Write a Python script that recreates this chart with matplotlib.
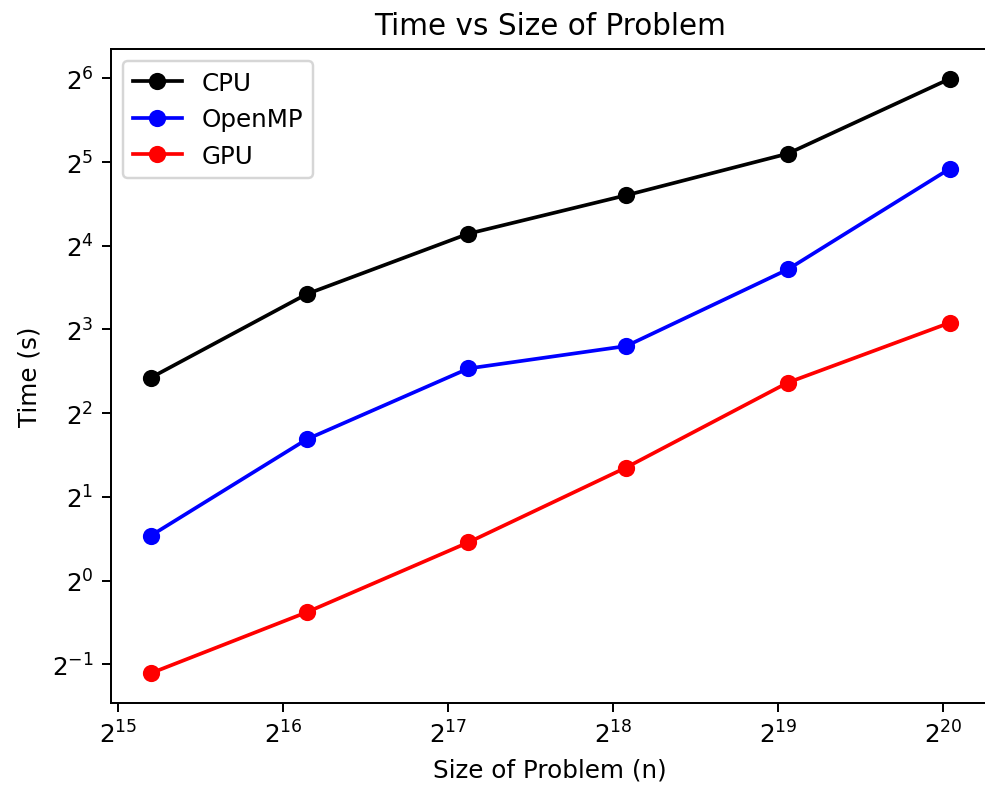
import matplotlib
matplotlib.use("Agg")
import matplotlib.pyplot as plt

# Problem sizes (n) and run times in seconds
sizes = [37600, 72400, 142800, 277000, 546000, 1079000]
cpu_time = [5.36, 10.72, 17.68, 24.3, 34.3, 63.8]
openmp_time = [1.449, 3.22, 5.79, 6.97, 13.15, 30.3]
gpu_time = [0.464, 0.769, 1.372, 2.55, 5.15, 8.46]

DPI = 177
fig = plt.figure(figsize=(985 / DPI, 792 / DPI), dpi=DPI)
ax = fig.add_axes([0.1124, 0.1111, 0.8926, 0.8258])

ax.plot(sizes, cpu_time, marker="o", color="black", label="CPU")
ax.plot(sizes, openmp_time, marker="o", color="blue", label="OpenMP")
ax.plot(sizes, gpu_time, marker="o", color="red", label="GPU")

ax.set_xscale("log", base=2)
ax.set_yscale("log", base=2)
ax.spines["right"].set_visible(False)

ax.set_title("Time vs Size of Problem")
ax.set_xlabel("Size of Problem (n)")
ax.set_ylabel("Time (s)")
ax.legend(loc="upper left")

fig.savefig("out.png", dpi=DPI)
